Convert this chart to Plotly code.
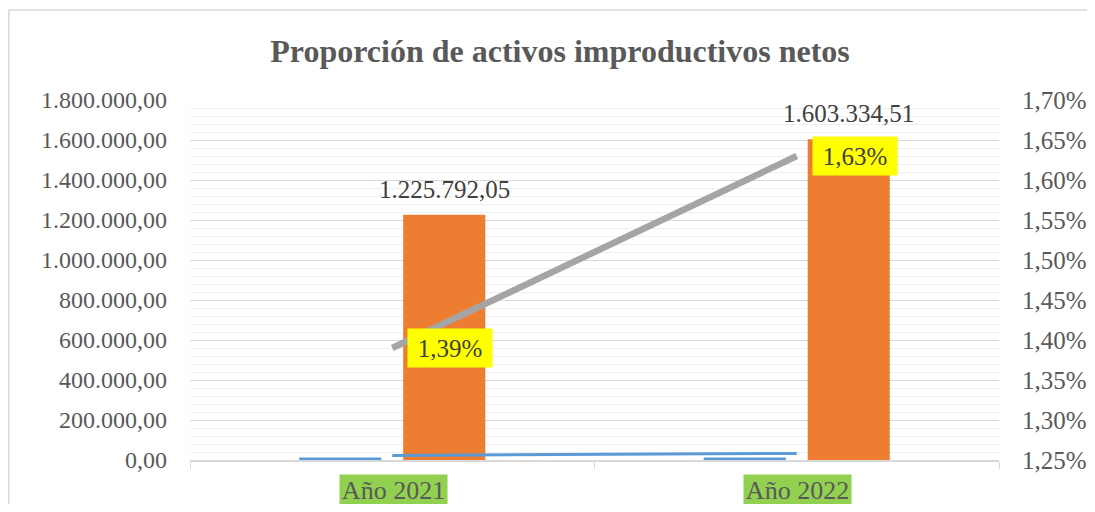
import plotly.graph_objects as go

# ---- data ----
categories = ["Año 2021", "Año 2022"]
activos_improductivos = [1225792.05, 1603334.51]      # orange bars
blue_bar_values = [12000, 12000]                       # tiny blue bars
blue_line_values = [23000, 33000]                      # blue line near zero
proporcion = [0.0139, 0.0163]                          # grey line (right axis)

bar_labels = ["1.225.792,05", "1.603.334,51"]
pct_labels = ["1,39%", "1,63%"]

left_tickvals = [0, 200000, 400000, 600000, 800000, 1000000, 1200000, 1400000, 1600000, 1800000]
left_ticktext = ["0,00", "200.000,00", "400.000,00", "600.000,00", "800.000,00",
                 "1.000.000,00", "1.200.000,00", "1.400.000,00", "1.600.000,00", "1.800.000,00"]
right_tickvals = [0.0125, 0.0130, 0.0135, 0.0140, 0.0145, 0.0150, 0.0155, 0.0160, 0.0165, 0.0170]
right_ticktext = ["1,25%", "1,30%", "1,35%", "1,40%", "1,45%", "1,50%", "1,55%", "1,60%", "1,65%", "1,70%"]

title_text = "Proporción de activos improductivos netos"

# ---- style ----
# page body has an 8px margin; keep the figure inside the window
W, H = 1079, 496
ML, MR, MT, MB = 182, 88, 92, 44
FONT = "Liberation Serif"
TXT = "#595959"
BAR_W = 0.203

fig = go.Figure()

fig.add_trace(go.Bar(x=categories, y=blue_bar_values, width=BAR_W, offset=-0.23,
                     marker=dict(color="#5B9BD5", line=dict(width=0)), showlegend=False,
                     hoverinfo="skip"))
fig.add_trace(go.Bar(x=categories, y=activos_improductivos, width=BAR_W, offset=0.027,
                     marker=dict(color="#ED7D31", line=dict(width=0)), showlegend=False))
fig.add_trace(go.Scatter(x=categories, y=blue_line_values, mode="lines",
                         line=dict(color="#5B9BD5", width=3), showlegend=False))
fig.add_trace(go.Scatter(x=categories, y=proporcion, mode="lines", yaxis="y2",
                         line=dict(color="#A5A5A5", width=6.5), showlegend=False))

annotations = []
cat_px = (W - ML - MR) / 2.0
bar_center_shift = (0.027 + BAR_W / 2) * cat_px
for c, v, t in zip(categories, activos_improductivos, bar_labels):
    annotations.append(dict(x=c, y=v, xref="x", yref="y", text=t, showarrow=False,
                            xshift=bar_center_shift, yanchor="bottom", yshift=10,
                            font=dict(family=FONT, size=25, color="#404040")))
for c, v, t in zip(categories, proporcion, pct_labels):
    annotations.append(dict(x=c, y=v, xref="x", yref="y2", text=t, showarrow=False,
                            xanchor="left", yanchor="middle", xshift=15,
                            bgcolor="#FFFF00", width=84, height=38, borderpad=0,
                            font=dict(family=FONT, size=25, color="#404040")))
for c in categories:
    annotations.append(dict(x=c, y=0, xref="x", yref="paper", text=c, showarrow=False,
                            xanchor="center", yanchor="top", yshift=-14, xshift=1,
                            bgcolor="#92D050", width=107, height=30, borderpad=0,
                            font=dict(family=FONT, size=26, color=TXT)))

pw, ph = W - ML - MR, H - MT - MB
bx0 = (0.8 - ML) / pw
by1 = (H - MB - 2) / ph
by0 = (H - MB - 530) / ph
border_top = dict(type="line", xref="paper", yref="paper", x0=bx0, x1=(1200 - ML) / pw,
                  y0=by1, y1=by1, line=dict(color="#D9D9D9", width=1.5), layer="below")
border_left = dict(type="line", xref="paper", yref="paper", x0=bx0, x1=bx0,
                   y0=by0, y1=by1, line=dict(color="#D9D9D9", width=1.5), layer="below")

fig.update_layout(
    width=W, height=H,
    margin=dict(l=ML, r=MR, t=MT, b=MB, autoexpand=False),
    paper_bgcolor="white", plot_bgcolor="white",
    barmode="overlay",
    title=dict(text="<b>" + title_text + "</b>", x=(560 - 8) / W, xanchor="center", y=1 - 43 / H,
               yanchor="middle", font=dict(family=FONT, size=32, color=TXT)),
    xaxis=dict(type="category", showline=True, linecolor="#D9D9D9", linewidth=1.5,
               ticks="outside", tickson="boundaries", ticklen=7, tickcolor="#D9D9D9",
               showticklabels=False, showgrid=False, range=[-0.5, 1.5], automargin=False),
    yaxis=dict(range=[0, 1800000], tickvals=left_tickvals, ticktext=left_ticktext,
               showgrid=True, gridcolor="#D9D9D9", gridwidth=1.2, zeroline=False,
               ticks="", ticklabelstandoff=22, automargin=False,
               minor=dict(dtick=40000, showgrid=True, gridcolor="#EFEFEF", gridwidth=1.2),
               tickfont=dict(family=FONT, size=24, color=TXT)),
    yaxis2=dict(range=[0.0125, 0.0170], tickvals=right_tickvals, ticktext=right_ticktext,
                overlaying="y", side="right", showgrid=False, zeroline=False,
                ticks="", ticklabelstandoff=22, automargin=False,
                tickfont=dict(family=FONT, size=25, color=TXT)),
    annotations=annotations,
    shapes=[border_top, border_left],
)

fig.write_html("out.html")
